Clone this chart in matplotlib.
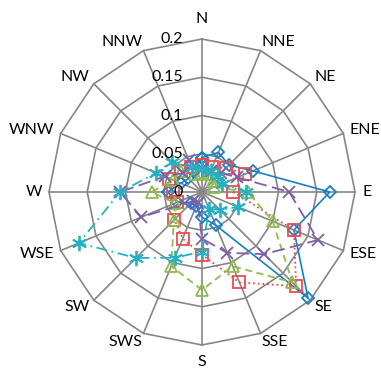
import numpy as np
import matplotlib
matplotlib.use("Agg")
import matplotlib.pyplot as plt

plt.rcParams['font.family'] = ['Lato', 'DejaVu Sans']

# Wind directions, clockwise from north
directions = ["N", "NNE", "NE", "ENE", "E", "ESE", "SE", "SSE",
              "S", "SWS", "SW", "WSE", "W", "WNW", "NW", "NNW"]

# Relative frequency per direction for each series
series_1 = [0.045, 0.056, 0.050, 0.072, 0.167, 0.130, 0.196, 0.047,
            0.033, 0.020, 0.020, 0.035, 0.045, 0.030, 0.025, 0.030]
series_2 = [0.035, 0.035, 0.045, 0.061, 0.041, 0.130, 0.174, 0.128,
            0.082, 0.066, 0.051, 0.035, 0.038, 0.046, 0.039, 0.036]
series_3 = [0.025, 0.025, 0.020, 0.017, 0.060, 0.100, 0.167, 0.105,
            0.128, 0.105, 0.052, 0.038, 0.066, 0.041, 0.038, 0.025]
series_4 = [0.030, 0.030, 0.035, 0.050, 0.114, 0.164, 0.115, 0.086,
            0.061, 0.015, 0.017, 0.086, 0.107, 0.053, 0.035, 0.045]
series_5 = [0.030, 0.030, 0.030, 0.029, 0.058, 0.051, 0.033, 0.024,
            0.078, 0.093, 0.122, 0.174, 0.107, 0.065, 0.056, 0.035]

radial_ticks = [0, 0.05, 0.1, 0.15, 0.2]
radial_labels = ["0", "0.05", "0.1", "0.15", "0.2"]

r_max = 0.2
grid_color = "#868686"

W, H, DPI = 381, 369, 100
fig = plt.figure(figsize=(W / DPI, H / DPI), dpi=DPI)
cx, cy, R = 202, 192, 153
ax = fig.add_axes([(cx - R) / W, (H - cy - R) / H, 2 * R / W, 2 * R / H],
                  projection="polar")
ax.set_theta_zero_location("N")
ax.set_theta_direction(-1)
ax.set_ylim(0, r_max)
ax.grid(False)
ax.spines["polar"].set_visible(False)
ax.set_xticks([])
ax.set_yticks([])
ax.patch.set_alpha(0)

n = len(directions)
theta = np.arange(n) * 2 * np.pi / n
theta_c = np.append(theta, theta[0])

# Polygonal grid rings and spokes
for r in radial_ticks[1:]:
    ax.plot(theta_c, [r] * (n + 1), color=grid_color, lw=1.2, zorder=1,
            clip_on=False)
for t in theta:
    ax.plot([t, t], [0, r_max], color=grid_color, lw=1.2, zorder=1,
            clip_on=False)

styles = [
    dict(values=series_1, color="#1580C8", ls="-", marker="D", ms=6.5, lw=1.2),
    dict(values=series_2, color="#EC4B4E", ls=(0, (1, 1.6)), marker="s", ms=9, lw=1.3),
    dict(values=series_3, color="#8FBC4F", ls=(0, (4, 2.5)), marker="^", ms=8.5, lw=1.3),
    dict(values=series_4, color="#7F5EA8", ls=(0, (7, 3)), marker="x", ms=8.5, lw=1.3),
    dict(values=series_5, color="#22B2C4", ls=(0, (6, 2.5, 1, 2.5)), marker=(6, 2, 0), ms=11, lw=1.3),
]
for i, s in enumerate(styles):
    vals = np.append(s["values"], s["values"][0])
    ax.plot(theta_c, vals, color=s["color"], ls=s["ls"], lw=s["lw"],
            marker=s["marker"], ms=s["ms"], mfc="none", mec=s["color"],
            mew=1.3, zorder=3 + i, clip_on=False)

# Radial value labels along the north spoke
pt = 72 / DPI
for r, lab in zip(radial_ticks, radial_labels):
    ax.annotate(lab, xy=(0, r), xytext=(-19 * pt, 0), textcoords="offset points",
                ha="right", va="center", fontsize=11.5, color="#000000", zorder=10)

# Direction labels: side labels sit beside the outer vertex, N/S above/below
for t, lab in zip(theta, directions):
    ux, uy = np.sin(t), np.cos(t)
    if abs(ux) < 0.1:
        dx, dy = 0, (13 if uy > 0 else -10)
        ha, va = "center", ("bottom" if uy > 0 else "top")
    else:
        dx = np.sign(ux) * (10 * abs(ux) - 3)
        dy = 9 * uy
        ha, va = ("left" if ux > 0 else "right"), "center"
    ax.annotate(lab, xy=(t, r_max), xytext=(dx * pt, dy * pt),
                textcoords="offset points", ha=ha, va=va,
                fontsize=11.5, color="#000000")

fig.savefig("out.png", dpi=DPI)
